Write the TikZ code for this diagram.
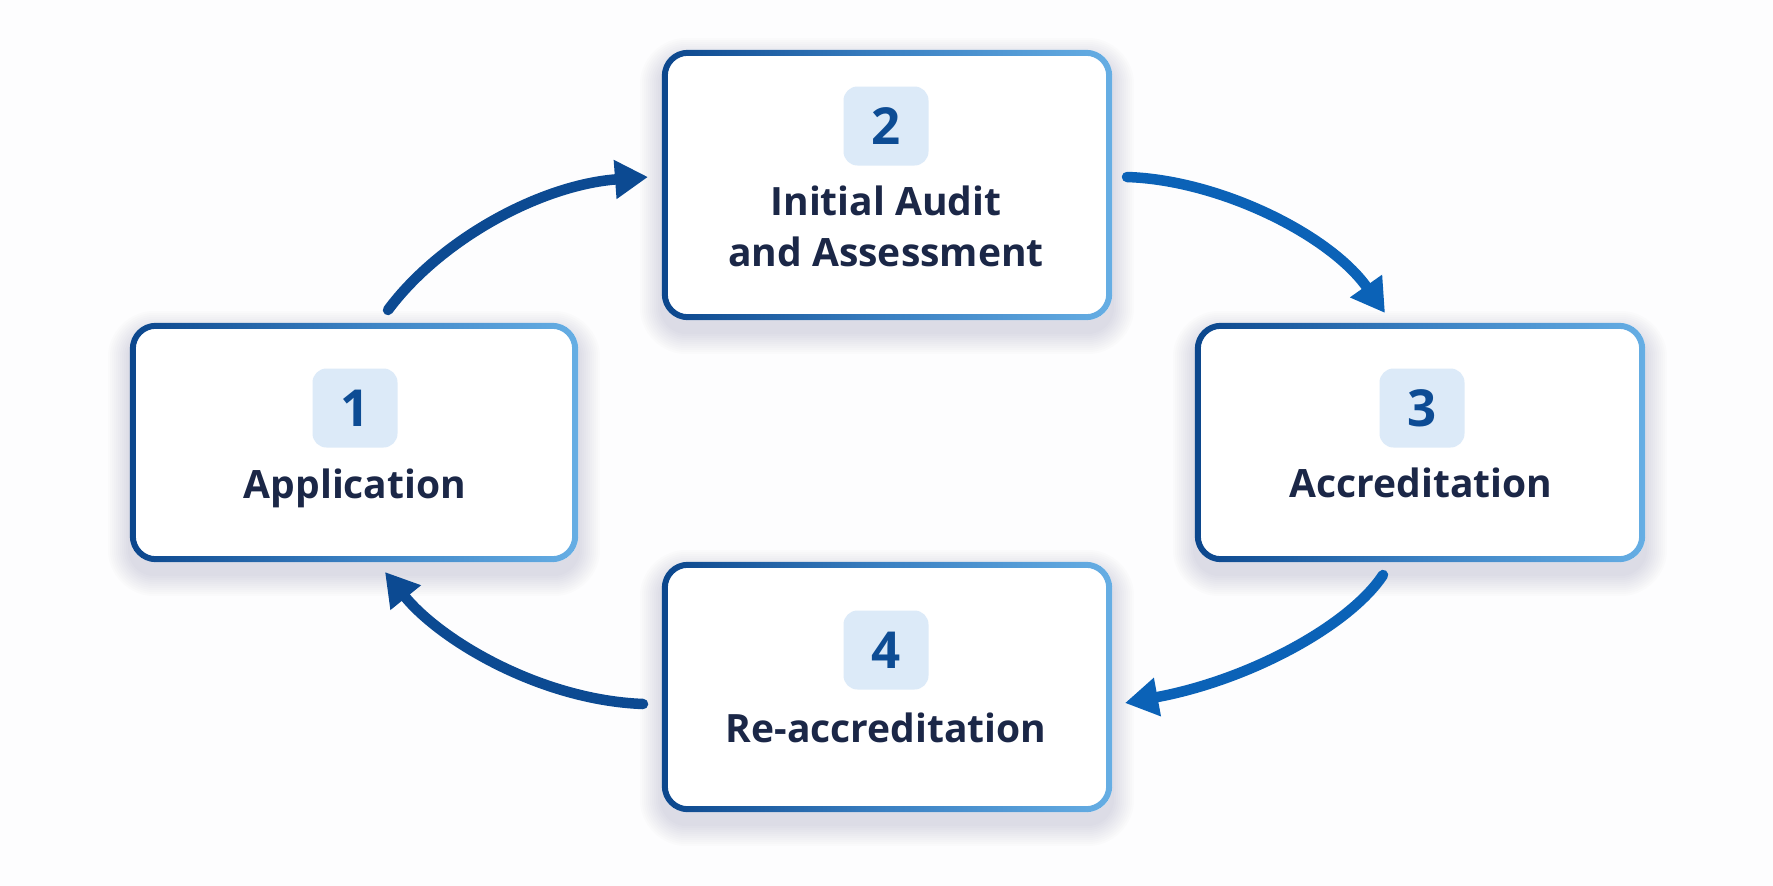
\documentclass[tikz,border=0pt]{standalone}
\usepackage{fontspec}
\setmainfont{Open Sans}[Ligatures=NoCommon]
\usetikzlibrary{arrows.meta}
\definecolor{bgc}{HTML}{FDFDFE}
\definecolor{bdark}{HTML}{0B468C}
\definecolor{bmid}{HTML}{3A80C2}
\definecolor{blight}{HTML}{66AEE4}
\definecolor{badgefill}{HTML}{DCEAF8}
\definecolor{numc}{HTML}{0D4C94}
\definecolor{txtc}{HTML}{1B2747}
\definecolor{arrdark}{HTML}{0C4A92}
\definecolor{arrbright}{HTML}{0B62B7}
\definecolor{shadowc}{HTML}{1C2A50}
\tikzset{
  stepbox/.style={rectangle, rounded corners=25pt, fill=white, minimum width=450pt, inner sep=0pt},
  badge/.style={rectangle, rounded corners=14pt, fill=badgefill, minimum width=85pt, minimum height=79pt, inner sep=0pt, font=\fontsize{51}{51}\selectfont\bfseries, text=numc},
  steplabel/.style={anchor=base, inner sep=0pt, font=\fontsize{39}{51}\selectfont\bfseries, text=txtc},
  flow/.style={line width=10.5pt, line cap=round, -{Triangle[length=33pt,width=37pt]}},
}
\newcommand\softshadow[1]{%
  \foreach \s [evaluate=\s as \r using 25+\s] in {2,4,...,22}{
    \fill[shadowc, opacity=0.012, rounded corners=\r pt]
      ([shift={(-\s,-\s+10)}]#1.north west) rectangle ([shift={(\s,\s+12)}]#1.south east);
  }}
\newcommand\gborder[1]{%
  \shade[left color=bdark, right color=blight, middle color=bmid, even odd rule]
    [rounded corners=26pt] (#1.north west) rectangle (#1.south east)
    [rounded corners=20pt] ([shift={(6,6)}]#1.north west) rectangle ([shift={(-6,-6)}]#1.south east);}
\begin{document}
\begin{tikzpicture}[x=1pt, y=-1pt]
\useasboundingbox (0,0) rectangle (1773,886);
\fill[bgc] (0,0) rectangle (1773,886);
% box placeholders (for anchors)
\path (354,442.5) node[stepbox, fill=none, minimum width=448pt, minimum height=239pt] (b1) {};
\path (887,185) node[stepbox, fill=none, minimum height=270pt] (b2) {};
\path (1420,442.5) node[stepbox, fill=none, minimum height=239pt] (b3) {};
\path (887,687) node[stepbox, fill=none, minimum height=250pt] (b4) {};
\softshadow{b1}\softshadow{b2}\softshadow{b3}\softshadow{b4}
\path (354,442.5) node[stepbox, minimum width=448pt, minimum height=239pt] (f1) {};
\path (887,185) node[stepbox, minimum height=270pt] (f2) {};
\path (1420,442.5) node[stepbox, minimum height=239pt] (f3) {};
\path (887,687) node[stepbox, minimum height=250pt] (f4) {};
\gborder{b1}\gborder{b2}\gborder{b3}\gborder{b4}
% badges
\node[badge] (n1) at (355,408) {1};
\node[badge] (n2) at (886,126) {2};
\node[badge] (n3) at (1422,408) {3};
\node[badge] (n4) at (886,650) {4};
% labels
\node[steplabel] (t1) at (355,498) {Application};
\node[steplabel] (t2a) at (886,215) {Initial Audit};
\node[steplabel] (t2b) at (886,266) {and Assessment};
\node[steplabel] (t3) at (1421,497) {Accreditation};
\node[steplabel] (t4) at (886,742) {Re-accreditation};
% arrows
\coordinate (a12s) at (388,310);
\coordinate (a12e) at (648,177);
\coordinate (a23s) at (1127,177);
\coordinate (a23e) at (1385,313);
\coordinate (a34s) at (1383,575);
\coordinate (a34e) at (1125,703);
\coordinate (a41s) at (643,704);
\coordinate (a41e) at (385,572);
\draw[flow, arrdark] (a12s) .. controls (440,240) and (540,185) .. (a12e);
\draw[flow, arrbright] (a23s) .. controls (1220,180) and (1330,235) .. (a23e);
\draw[flow, arrbright] (a34s) .. controls (1350,625) and (1250,680) .. (a34e);
\draw[flow, arrdark] (a41s) .. controls (540,700) and (440,640) .. (a41e);
\end{tikzpicture}
\end{document}
